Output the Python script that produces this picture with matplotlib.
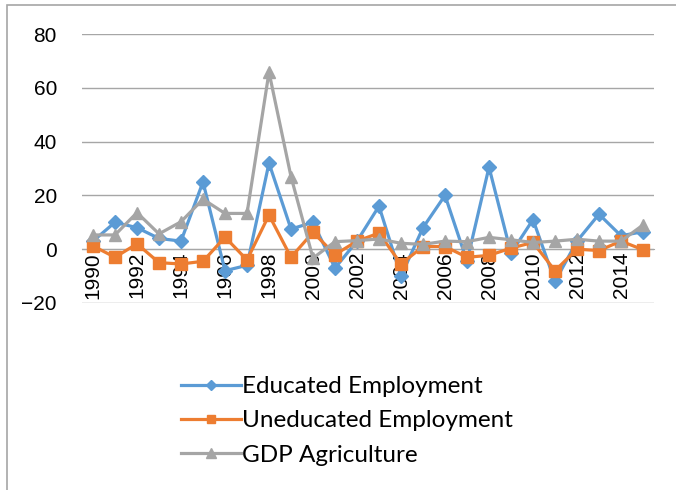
import matplotlib.pyplot as plt
from matplotlib.patches import Rectangle

# Years and series values
years = list(range(1990, 2016))
educated = [3, 10, 8, 4, 3, 25, -8, -6, 32, 7.5, 10, -7, 3, 16, -10, 8,
            20, -4.5, 30.5, -1.5, 11, -12, 3, 13, 5, 6.5]
uneducated = [1.2, -3, 2, -5, -5.5, -4.5, 4.5, -4, 12.7, -3, 6.3, -2, 3, 6, -5.5, 1,
              1, -3, -2.3, 0.4, 2.5, -8, 0, -0.5, 3, -0.2]
gdp_agri = [5.3, 5.3, 13.6, 5.7, 10.2, 18.6, 13.3, 13.3, 65.8, 27, -3.3, 2.8, 3.2, 3.8, 2.2, 1.8,
            3, 2.8, 4.4, 3.5, 2.5, 3, 3.7, 3, 3, 9]
labels = ['Educated Employment', 'Uneducated Employment', 'GDP Agriculture']
colors = ['#5B9BD5', '#ED7D31', '#A5A5A5']
markers = ['D', 's', '^']
msizes = [7, 8, 8.5]

plt.rcParams['font.family'] = ['Liberation Sans', 'DejaVu Sans']

fig = plt.figure(figsize=(6.76, 4.9), dpi=100)
# chart border (only left and top edges fall inside the picture)
fig.patches.append(Rectangle((6.5 / 676, -0.1), 1.2, 1 - 5 / 490 + 0.1,
                             transform=fig.transFigure, fill=False,
                             edgecolor='#A6A6A6', linewidth=1.2))
ax = fig.add_axes([82 / 676, 1 - 303 / 490, 572 / 676, 269 / 490])

idx = list(range(len(years)))
for vals, lab, c, m, ms in zip([educated, uneducated, gdp_agri], labels, colors, markers, msizes):
    ax.plot(idx, vals, color=c, marker=m, markersize=ms, linewidth=2.3, label=lab)

ax.set_xlim(-0.5, len(years) - 0.5)
ax.set_ylim(-20, 80)
ax.set_yticks(range(-20, 81, 20))
ax.grid(axis='y', color='#A6A6A6', linewidth=1)
ax.set_axisbelow(True)
for s in ['top', 'right', 'left']:
    ax.spines[s].set_visible(False)
ax.spines['bottom'].set_position(('data', 0))
ax.spines['bottom'].set_color('#A6A6A6')
ax.spines['bottom'].set_zorder(0)

ax.set_xticks(idx[::2])
ax.set_xticklabels([str(y) for y in years[::2]], rotation=90, fontsize=15)
ax.tick_params(axis='x', length=0, pad=2)
ax.tick_params(axis='y', length=0, pad=18, labelsize=15)

leg = fig.legend(loc='upper left', bbox_to_anchor=(181 / 676, 1 - 376 / 490),
                 frameon=False, handlelength=2.45, handletextpad=0.05,
                 labelspacing=0.55, borderpad=0, borderaxespad=0, markerscale=0.8,
                 prop={'family': ['Lato', 'DejaVu Sans'], 'size': 17.5})

fig.savefig('out.png', dpi=100)
